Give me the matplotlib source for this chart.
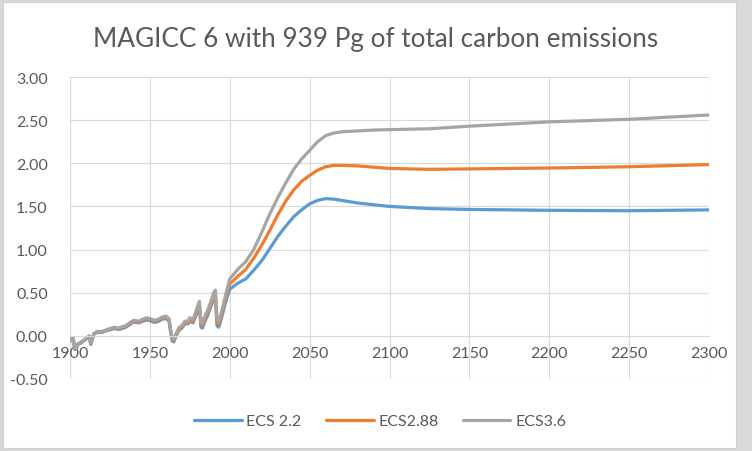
import numpy as np
import matplotlib
matplotlib.use("Agg")
import matplotlib.pyplot as plt
from matplotlib.patches import Rectangle

plt.rcParams['font.family'] = ['Lato', 'DejaVu Sans']

# years of the series (historic part is irregular)
years = [1900, 1901, 1902, 1903, 1904, 1905, 1907, 1910, 1912, 1913,
         1915, 1917, 1920, 1922, 1925, 1928, 1930, 1932, 1935, 1938,
         1940, 1943, 1945, 1948, 1950, 1953, 1955, 1958, 1960, 1962,
         1963, 1964, 1965, 1966, 1968, 1970, 1972, 1974, 1975, 1977,
         1978, 1980, 1981, 1982, 1983, 1984, 1986, 1988, 1990, 1991,
         1992, 1993, 1994, 1996, 1998, 2000,
         2005, 2010, 2015, 2020, 2025, 2030, 2035, 2040, 2045, 2050,
         2055, 2060, 2065, 2070, 2080, 2090, 2100, 2125, 2150, 2200,
         2250, 2300]

ecs22 = [-0.04, -0.06, -0.03, -0.16, -0.14, -0.10, -0.08, -0.04, -0.01, -0.10,
         0.02, 0.04, 0.04, 0.055, 0.07, 0.085, 0.075, 0.08, 0.10, 0.14,
         0.16, 0.15, 0.165, 0.185, 0.175, 0.155, 0.165, 0.195, 0.20, 0.175,
         0.04, -0.06, -0.07, -0.02, 0.06, 0.09, 0.14, 0.14, 0.17, 0.15,
         0.20, 0.29, 0.34, 0.10, 0.09, 0.15, 0.23, 0.33, 0.44, 0.46,
         0.12, 0.10, 0.15, 0.29, 0.43, 0.54,
         0.61, 0.66, 0.76, 0.87, 1.01, 1.15, 1.27, 1.38, 1.46, 1.53,
         1.57, 1.59, 1.585, 1.57, 1.54, 1.52, 1.50, 1.475, 1.465, 1.455,
         1.45, 1.46]

ecs288 = [-0.035, -0.055, -0.025, -0.155, -0.135, -0.095, -0.075, -0.035, -0.005, -0.095,
          0.025, 0.045, 0.045, 0.06, 0.08, 0.095, 0.085, 0.09, 0.11, 0.15,
          0.17, 0.16, 0.18, 0.20, 0.19, 0.17, 0.18, 0.21, 0.215, 0.19,
          0.055, -0.045, -0.055, -0.005, 0.075, 0.105, 0.155, 0.155, 0.19, 0.17,
          0.22, 0.32, 0.37, 0.13, 0.12, 0.18, 0.26, 0.36, 0.47, 0.50,
          0.16, 0.14, 0.19, 0.33, 0.48, 0.60,
          0.69, 0.77, 0.90, 1.05, 1.22, 1.40, 1.56, 1.69, 1.79, 1.86,
          1.92, 1.96, 1.975, 1.975, 1.97, 1.955, 1.94, 1.93, 1.935, 1.945,
          1.96, 1.985]

ecs36 = [-0.03, -0.05, -0.02, -0.15, -0.13, -0.09, -0.07, -0.03, 0.00, -0.09,
         0.03, 0.05, 0.05, 0.065, 0.085, 0.10, 0.09, 0.10, 0.12, 0.16,
         0.18, 0.17, 0.19, 0.21, 0.20, 0.18, 0.19, 0.22, 0.23, 0.20,
         0.07, -0.03, -0.04, 0.01, 0.09, 0.12, 0.17, 0.17, 0.21, 0.19,
         0.24, 0.35, 0.40, 0.16, 0.15, 0.21, 0.29, 0.39, 0.50, 0.53,
         0.20, 0.17, 0.22, 0.36, 0.52, 0.66,
         0.77, 0.86, 1.00, 1.20, 1.41, 1.60, 1.77, 1.93, 2.05, 2.15,
         2.25, 2.32, 2.35, 2.365, 2.375, 2.385, 2.39, 2.40, 2.43, 2.48,
         2.51, 2.56]

series = [("ECS 2.2", ecs22, "#5B9BD5"),
          ("ECS2.88", ecs288, "#ED7D31"),
          ("ECS3.6", ecs36, "#A5A5A5")]

x_ticks = np.arange(1900, 2301, 50)
y_ticks = np.arange(-0.5, 3.01, 0.5)

fig = plt.figure(figsize=(7.52, 4.52), dpi=100, facecolor="#d9d9d9")
# white chart area with thin border, like the excel chart frame
bg = fig.add_axes([0, 0, 1, 1], zorder=-1)
bg.set_axis_off()
bg.add_patch(Rectangle((3 / 752, 3 / 452), 733 / 752, 446 / 452,
                       transform=bg.transAxes, facecolor="white",
                       edgecolor="#d0d0d0", lw=0.8))

ax = fig.add_axes([70 / 752, 72 / 452, 639 / 752, 302 / 452], zorder=2)
ax.set_facecolor("none")

for name, vals, col in series:
    ax.plot(years, vals, color=col, lw=2.3, label=name, solid_capstyle="round")

ax.set_xlim(1900, 2300)
ax.set_ylim(-0.5, 3.0)
ax.set_xticks(x_ticks)
ax.set_yticks(y_ticks)
ax.set_yticklabels([f"{v:.2f}" for v in y_ticks])
ax.grid(True, color="#d9d9d9", lw=0.8)
ax.set_axisbelow(True)

for s in ["top", "right", "left"]:
    ax.spines[s].set_visible(False)
ax.spines["bottom"].set_position(("data", 0))
ax.spines["bottom"].set_color("#d9d9d9")
ax.tick_params(length=0, labelsize=11.5, colors="#595959")
ax.tick_params(axis="x", pad=7)
ax.tick_params(axis="y", pad=16)

fig.text(0.5, 1 - 40 / 452, "MAGICC 6 with 939 Pg of total carbon emissions",
         ha="center", va="center", fontsize=18.8, color="#595959")

ax.legend(loc="center", bbox_to_anchor=(380 / 752, 1 - 422 / 452),
          bbox_transform=fig.transFigure, ncol=3, frameon=False,
          fontsize=11.5, labelcolor="#595959", handlelength=3.0,
          handletextpad=0.3, columnspacing=1.5)

fig.savefig("out.png", dpi=100, facecolor=fig.get_facecolor())
